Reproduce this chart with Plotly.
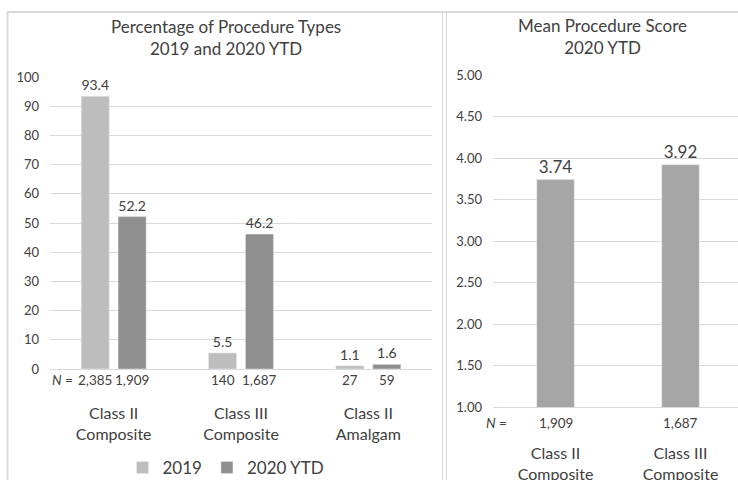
import plotly.graph_objects as go

# ---------------- data ----------------
categories_left = ["Class II<br>Composite", "Class III<br>Composite", "Class II<br>Amalgam"]
pct_2019 = [93.4, 5.5, 1.1]
pct_2020 = [52.2, 46.2, 1.6]
n_2019 = ["2,385", "140", "27"]
n_2020 = ["1,909", "1,687", "59"]

categories_right = ["Class II<br>Composite", "Class III<br>Composite"]
mean_scores = [3.74, 3.92]
n_right = ["1,909", "1,687"]

left_ticks = [0, 10, 20, 30, 40, 50, 60, 70, 80, 90, 100]
right_ticks = [1.0, 1.5, 2.0, 2.5, 3.0, 3.5, 4.0, 4.5, 5.0]

# ---------------- styling ----------------
W, H = 738, 480
FONT = "Lato"
C2019 = "#BDBDBD"
C2020 = "#8F8F8F"
CRIGHT = "#A5A5A5"
GRID = "#D9D9D9"
TXT = "#404040"
TICK = "#404040"
BARGAP = 0.42
GROUPGAP = 0.24


def xp(px):
    return px / W


def yp(py):
    return 1 - py / H


fig = go.Figure()

fig.add_trace(go.Bar(
    x=categories_left, y=pct_2019, name="2019", marker_color=C2019,
    texttemplate="%{y:.1f}", textposition="outside", cliponaxis=False,
    textfont=dict(size=14, color=TXT), xaxis="x", yaxis="y",
))
fig.add_trace(go.Bar(
    x=categories_left, y=pct_2020, name="2020 YTD", marker_color=C2020,
    texttemplate="%{y:.1f}", textposition="outside", cliponaxis=False,
    textfont=dict(size=14, color=TXT), xaxis="x", yaxis="y",
))
fig.add_trace(go.Bar(
    x=categories_right, y=mean_scores, name="Mean score", marker_color=CRIGHT,
    width=0.3, texttemplate="%{y:.2f}", textposition="outside", cliponaxis=False,
    textfont=dict(size=17, color=TXT), xaxis="x2", yaxis="y2", showlegend=False,
))

annotations = []
# titles
annotations.append(dict(text="Percentage of Procedure Types<br>2019 and 2020 YTD",
                        x=xp(226), y=yp(38), xref="paper", yref="paper",
                        xanchor="center", yanchor="middle", showarrow=False,
                        font=dict(size=17, color=TXT, family=FONT)))
annotations.append(dict(text="Mean Procedure Score<br>2020 YTD",
                        x=xp(602), y=yp(36.5), xref="paper", yref="paper",
                        xanchor="center", yanchor="middle", showarrow=False,
                        font=dict(size=17, color=TXT, family=FONT)))
# N rows
annotations.append(dict(text="<i>N</i> =", x=xp(62), y=yp(380), xref="paper", yref="paper",
                        xanchor="center", yanchor="middle", showarrow=False,
                        font=dict(size=13.5, color=TXT, family=FONT)))
off = (1 - BARGAP) / 4
for i in range(len(categories_left)):
    annotations.append(dict(text=n_2019[i], x=i - off, y=yp(380), xref="x", yref="paper",
                            xanchor="center", yanchor="middle", showarrow=False,
                            font=dict(size=13.5, color=TXT, family=FONT)))
    annotations.append(dict(text=n_2020[i], x=i + off, y=yp(380), xref="x", yref="paper",
                            xanchor="center", yanchor="middle", showarrow=False,
                            font=dict(size=13.5, color=TXT, family=FONT)))
annotations.append(dict(text="<i>N</i> =", x=xp(496), y=yp(423), xref="paper", yref="paper",
                        xanchor="center", yanchor="middle", showarrow=False,
                        font=dict(size=13.5, color=TXT, family=FONT)))
for i in range(len(categories_right)):
    annotations.append(dict(text=n_right[i], x=i, y=yp(423), xref="x2", yref="paper",
                            xanchor="center", yanchor="middle", showarrow=False,
                            font=dict(size=13.5, color=TXT, family=FONT)))

shapes = [
    dict(type="line", xref="paper", yref="paper", x0=xp(7), x1=1, y0=yp(12), y1=yp(12),
         line=dict(color=GRID, width=2)),
    dict(type="line", xref="paper", yref="paper", x0=xp(7.5), x1=xp(7.5), y0=yp(12), y1=0,
         line=dict(color=GRID, width=2)),
    dict(type="line", xref="paper", yref="paper", x0=xp(442.5), x1=xp(442.5), y0=yp(12), y1=0,
         line=dict(color=GRID, width=1)),
    dict(type="line", xref="paper", yref="paper", x0=xp(446.5), x1=xp(446.5), y0=yp(12), y1=0,
         line=dict(color=GRID, width=1)),
]

fig.update_layout(
    width=W, height=H,
    margin=dict(l=0, r=0, t=0, b=0, autoexpand=False),
    paper_bgcolor="white", plot_bgcolor="white",
    font=dict(family=FONT, color=TXT),
    barmode="group", bargap=BARGAP, bargroupgap=GROUPGAP,
    showlegend=True,
    legend=dict(orientation="h", x=xp(226), xanchor="center", y=yp(468), yanchor="middle",
                font=dict(size=17, color=TXT, family=FONT), bgcolor="rgba(0,0,0,0)"),
    xaxis=dict(domain=[xp(50), xp(432)], type="category", showgrid=False,
               showline=True, linecolor=GRID, ticks="", ticklabelstandoff=30,
               tickfont=dict(size=16, color=TXT), anchor="y"),
    yaxis=dict(domain=[yp(369), yp(77)], range=[0, 100], tickvals=left_ticks,
               showgrid=True, gridcolor=GRID, zeroline=False, showline=False,
               ticks="", ticklabelstandoff=10, tickfont=dict(size=13, color=TICK), anchor="x"),
    xaxis2=dict(domain=[xp(493), 1], type="category", range=[-0.5, 1.46], showgrid=False,
                showline=True, linecolor=GRID, ticks="", ticklabelstandoff=32,
                tickfont=dict(size=16, color=TXT), anchor="y2"),
    yaxis2=dict(domain=[yp(407), yp(75)], range=[1, 5], tickvals=right_ticks, tickformat=".2f",
                showgrid=True, gridcolor=GRID, zeroline=False, showline=False,
                ticks="", ticklabelstandoff=10, tickfont=dict(size=13, color=TICK), anchor="x2"),
    annotations=annotations,
    shapes=shapes,
)

fig.write_html(
    "out.html",
    config={"displayModeBar": False},
    post_script="document.body.style.margin='0px';document.body.style.overflow='hidden';",
)
